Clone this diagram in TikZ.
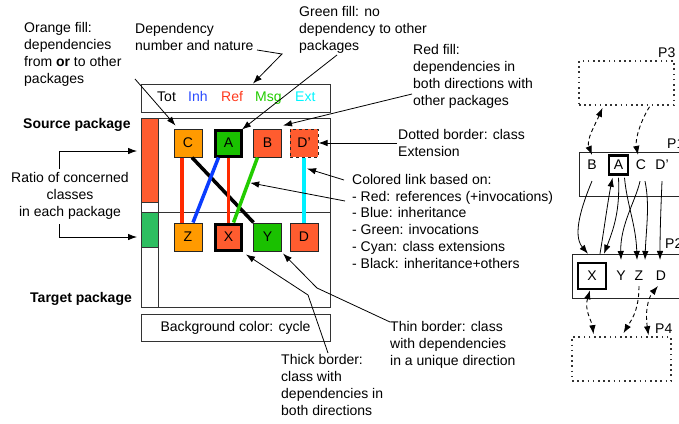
\documentclass[tikz,border=0pt]{standalone}
\usepackage{fontspec}
\setmainfont{Liberation Sans}
\usetikzlibrary{arrows.meta}
\definecolor{forange}{HTML}{FF9A00}
\definecolor{fred}{HTML}{FF5C2F}
\definecolor{fgreen}{HTML}{1AC100}
\definecolor{bargreen}{HTML}{2DBE60}
\definecolor{lred}{HTML}{FF2A00}
\definecolor{lblue}{HTML}{0A3CFF}
\definecolor{lgreen}{HTML}{22CC00}
\definecolor{lcyan}{HTML}{00F0FF}
\definecolor{tblue}{HTML}{2A4BFF}
\definecolor{tred}{HTML}{FF3A1E}
\definecolor{tgreen}{HTML}{22CC00}
\definecolor{tcyan}{HTML}{00F5FF}
\begin{document}
\begin{tikzpicture}[x=1pt,y=-1pt,
  every node/.style={font=\fontsize{14}{16.7}\selectfont, inner sep=0pt},
  txt/.style={align=left, anchor=base west},
  cls/.style={draw=black!85, line width=1pt, minimum width=28pt, minimum height=28pt},
  clsthick/.style={draw=black, line width=3pt, minimum width=26pt, minimum height=26pt},
  ann/.style={-{Latex[length=9pt,width=6.5pt]}, line width=0.8pt},
  link/.style={line width=3.5pt},
  frame/.style={draw=black!80, line width=1pt},
  pkg/.style={draw=black!85, line width=1pt},
  dotbox/.style={draw=black!80, line width=1.6pt, dash pattern=on 1.6pt off 3.6pt},
  rarr/.style={-{Latex[length=9pt,width=6.5pt]}, line width=0.8pt},
  darr/.style={{Latex[length=9pt,width=6.5pt]}-{Latex[length=9pt,width=6.5pt]}, line width=0.9pt, dash pattern=on 4pt off 3pt},
  darr1/.style={-{Latex[length=9pt,width=6.5pt]}, line width=0.9pt, dash pattern=on 4pt off 3pt},
  lt/.style={inner sep=2pt}
]
\useasboundingbox (0,0) rectangle (679,423);

% ---------- left: frames ----------
\node[frame, minimum width=189pt, minimum height=28pt] (hdr) at (235.5,98) {};
\node[anchor=base west] (hTot) at (157,101) {Tot};
\node[anchor=base west, text=tblue] (hInh) at (188,101) {Inh};
\node[anchor=base west, text=tred] (hRef) at (221,101) {Ref};
\node[anchor=base west, text=tgreen] (hMsg) at (255,101) {Msg};
\node[anchor=base west, text=tcyan] (hExt) at (295,101) {Ext};

\draw[frame] (141,118) rectangle (330,307);
\draw[frame] (158,118) -- (158,307);
\draw[frame] (158,212) -- (330,212);
\draw[frame, fill=fred] (141,118) rectangle (158,202);
\draw[frame, fill=bargreen] (141,212) rectangle (158,247);

\node[frame, minimum width=189pt, minimum height=27pt] (bg) at (235.5,327.5) {};
\node[anchor=base] (bgt) at (235.5,331) {Background color: cycle};

% ---------- left: classes ----------
\node[cls, fill=forange] (nC) at (188,143) {C};
\node[clsthick, fill=fgreen] (nA) at (228.5,143) {A};
\node[cls, fill=fred] (nB) at (267.5,143) {B};
\node[cls, fill=fred, dashed] (nDp) at (304,143) {D'};
\node[cls, fill=forange] (nZ) at (188,237) {Z};
\node[clsthick, fill=fred] (nX) at (228.5,237) {X};
\node[cls, fill=fgreen] (nY) at (267.5,237) {Y};
\node[cls, fill=fred] (nD) at (304,237) {D};

% ---------- left: links ----------
\draw[link, lred] ([xshift=-6pt]nC.south) -- ([xshift=-6pt]nZ.north);
\draw[link, black] ([xshift=4pt]nC.south) -- ([xshift=-14pt]nY.north);
\draw[link, lblue] ([xshift=-10pt]nA.south) -- ([xshift=5pt]nZ.north);
\draw[link, lred] (nA.south) -- (nX.north);
\draw[link, lgreen] ([xshift=-10pt]nB.south) -- coordinate[pos=0.39] (gmid) ([xshift=5pt]nX.north);
\draw[link, lcyan] (nDp.south) -- coordinate[pos=0.17] (cmid) (nD.north);

% ---------- left: texts (base = last line's baseline) ----------
\node[txt] (tOrange) at (24,83) {Orange fill:\\dependencies\\from \textbf{or} to other\\packages};
\node[txt] (tDep) at (135,50) {Dependency\\number and nature};
\node[txt] (tGreen) at (299,50) {Green fill: no\\dependency to other\\packages};
\node[txt] (tRed) at (413,105) {Red fill:\\dependencies in\\both directions with\\other packages};
\node[txt] (tDot) at (398,156) {Dotted border: class\\Extension};
\node[txt] (tLink) at (352,268) {Colored link based on:\\- Red: references (+invocations)\\- Blue: inheritance\\- Green: invocations\\- Cyan: class extensions\\- Black: inheritance+others};
\node[txt] (tThin) at (390,365) {Thin border: class\\with dependencies\\in a unique direction};
\node[txt] (tThick) at (281,415) {Thick border:\\class with\\dependencies in\\both directions};
\node[align=center, anchor=base] (tRatio) at (70,216) {Ratio of concerned\\classes\\in each package};
\node[anchor=base west] (tSrc) at (23,128) {\textbf{Source package}};
\node[anchor=base west] (tTgt) at (30,302) {\textbf{Target package}};

% ---------- left: annotation arrows ----------
\coordinate (aO) at (135,79);
\draw[ann] (aO) -- ([xshift=2pt,yshift=3pt]nC.north west);
\coordinate (aD1) at (257,50);
\coordinate (aD2) at (282,54);
\draw[ann] (aD1) -- (aD2) -- ([xshift=17.5pt]hdr.north);
\coordinate (aG) at (337,55);
\draw[ann] (aG) -- ([xshift=-1pt,yshift=-1pt]nA.north east);
\coordinate (aR) at (412,94);
\draw[ann] (aR) -- ([xshift=1pt,yshift=3pt]nB.north east);
\coordinate (aDt) at (397,143);
\draw[ann] (aDt) -- (nDp.east);
\coordinate (aL1) at (344,180);
\draw[ann] (aL1) -- ([xshift=3pt]cmid);
\coordinate (aL2) at (345,201);
\draw[ann] (aL2) -- ([xshift=2pt]gmid);
\coordinate (aTn1) at (390,322);
\coordinate (aTn2) at (317,288);
\draw[ann] (aTn1) -- (aTn2) -- ([xshift=1pt,yshift=-2pt]nY.south east);
\coordinate (aTk1) at (328,353);
\coordinate (aTk2) at (308,295);
\draw[ann] (aTk1) -- (aTk2) -- ([xshift=3pt,yshift=-3pt]nX.south east);
\coordinate (aRa1) at (59,169);
\draw[ann] (aRa1) |- ([xshift=-4pt]141,151);
\coordinate (aRa2) at (59,224);
\draw[ann] (aRa2) |- ([xshift=-4pt]141,237);

% ---------- right diagram ----------
\node[dotbox, minimum width=95pt, minimum height=44pt] (p3) at (626.5,83) {};
\node[anchor=base west] (p3l) at (658,57) {P3};
\node[pkg, minimum width=102pt, minimum height=44pt] (p1) at (630,174) {};
\node[anchor=base west] (p1l) at (667,148) {P1};
\node[pkg, minimum width=109pt, minimum height=44pt] (p2) at (626.5,276) {};
\node[anchor=base west] (p2l) at (665,248) {P2};
\node[dotbox, minimum width=99pt, minimum height=44pt] (p4) at (621.5,359) {};
\node[anchor=base west] (p4l) at (655,333) {P4};

\node[lt] (rB) at (592,165) {B};
\node[draw=black, line width=2.5pt, minimum width=19pt, minimum height=19pt] (rA) at (618.5,165) {A};
\node[lt] (rC) at (641,165) {C};
\node[lt] (rDp) at (662,165) {D'};
\node[draw=black, line width=2.5pt, minimum width=28pt, minimum height=26pt] (rX) at (592,276) {X};
\node[lt] (rY) at (621,276) {Y};
\node[lt] (rZ) at (639,276) {Z};
\node[lt] (rD) at (661,276) {D};

% solid P1 -> P2
\draw[rarr] ([yshift=-9pt]rB.south) .. controls (582,205) and (572,235) .. ([xshift=-4pt,yshift=8pt]rX.north);
\draw[rarr] ([xshift=8pt,yshift=8pt]rX.north) .. controls (604,230) and (608,200) .. ([xshift=-6pt,yshift=-2pt]rA.south);
\draw[rarr] ([xshift=0pt,yshift=-2pt]rA.south) .. controls (620,210) and (614,228) .. ([xshift=12pt,yshift=8pt]rX.north);
\draw[rarr] ([xshift=6pt,yshift=-2pt]rA.south) .. controls (627,205) and (636,225) .. ([xshift=-2pt,yshift=9pt]rZ.north);
\draw[rarr] ([xshift=-1pt,yshift=-9pt]rC.south) .. controls (636,200) and (620,225) .. ([yshift=9pt]rY.north);
\draw[rarr] ([xshift=4pt,yshift=-9pt]rC.south) .. controls (650,205) and (646,230) .. ([xshift=6pt,yshift=9pt]rZ.north);
\draw[rarr] ([xshift=0pt,yshift=-9pt]rDp.south) .. controls (661,205) and (660,230) .. ([xshift=-1pt,yshift=9pt]rD.north);

% dashed
\draw[darr] ([xshift=-24pt,yshift=-2pt]p3.south) .. controls (595,125) and (586,140) .. ([yshift=3pt]rB.north);
\draw[darr1] ([xshift=23pt,yshift=-1pt]p3.south) .. controls (640,122) and (635,140) .. ([xshift=-3pt,yshift=3pt]rC.north);
\draw[darr] ([xshift=-2pt]rX.south) .. controls (584,310) and (592,322) .. ([xshift=-28pt,yshift=2pt]p4.north);
\draw[darr1] ([yshift=-3pt]rZ.south) .. controls (639,312) and (630,322) .. ([xshift=2pt,yshift=3pt]p4.north);
\draw[darr] ([xshift=27pt,yshift=1pt]p4.north) .. controls (645,312) and (648,298) .. ([xshift=-3pt,yshift=-3pt]rD.south);
\end{tikzpicture}
\end{document}
